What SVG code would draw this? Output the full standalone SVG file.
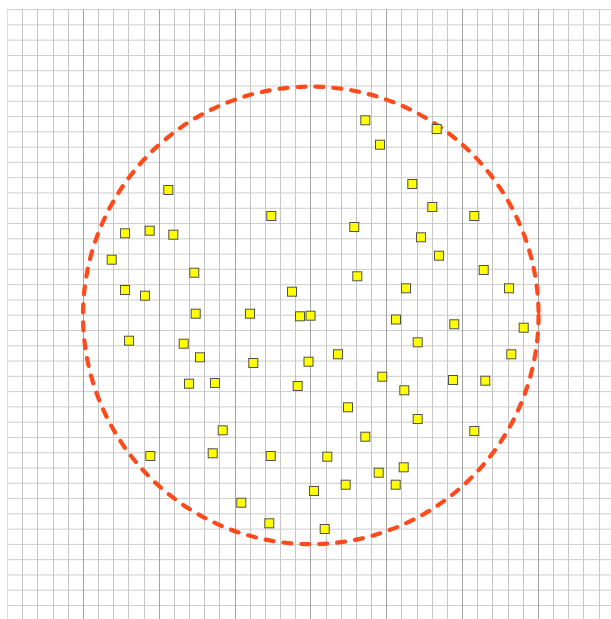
<svg xmlns="http://www.w3.org/2000/svg" width="611" height="619" viewBox="0 0 611 619">
<style>
.h{stroke:#cdcdcd;stroke-width:1}
.v{stroke:#c6c6c6;stroke-width:1}
.m{stroke:#a4a4a4;stroke-width:1}
.pt{fill:#ffff00;stroke:#505050;stroke-width:1}
.ring{fill:none;stroke:#ff4a1c;stroke-width:4.2;stroke-dasharray:8 10;stroke-linecap:round}
</style>
<rect width="611" height="619" fill="#ffffff"/>
<g id="grid">
<g id="grid-h">
<line class="h" x1="7" x2="611" y1="9.6" y2="9.6"/>
<line class="h" x1="7" x2="611" y1="24.88" y2="24.88"/>
<line class="h" x1="7" x2="611" y1="40.16" y2="40.16"/>
<line class="h" x1="7" x2="611" y1="55.44" y2="55.44"/>
<line class="h" x1="7" x2="611" y1="70.72" y2="70.72"/>
<line class="h" x1="7" x2="611" y1="86" y2="86"/>
<line class="h" x1="7" x2="611" y1="101.28" y2="101.28"/>
<line class="h" x1="7" x2="611" y1="116.56" y2="116.56"/>
<line class="h" x1="7" x2="611" y1="131.84" y2="131.84"/>
<line class="h" x1="7" x2="611" y1="147.12" y2="147.12"/>
<line class="h" x1="7" x2="611" y1="162.4" y2="162.4"/>
<line class="h" x1="7" x2="611" y1="177.68" y2="177.68"/>
<line class="h" x1="7" x2="611" y1="192.96" y2="192.96"/>
<line class="h" x1="7" x2="611" y1="208.24" y2="208.24"/>
<line class="h" x1="7" x2="611" y1="223.52" y2="223.52"/>
<line class="h" x1="7" x2="611" y1="238.8" y2="238.8"/>
<line class="h" x1="7" x2="611" y1="254.08" y2="254.08"/>
<line class="h" x1="7" x2="611" y1="269.36" y2="269.36"/>
<line class="h" x1="7" x2="611" y1="284.64" y2="284.64"/>
<line class="h" x1="7" x2="611" y1="299.92" y2="299.92"/>
<line class="h" x1="7" x2="611" y1="315.2" y2="315.2"/>
<line class="h" x1="7" x2="611" y1="330.48" y2="330.48"/>
<line class="h" x1="7" x2="611" y1="345.76" y2="345.76"/>
<line class="h" x1="7" x2="611" y1="361.04" y2="361.04"/>
<line class="h" x1="7" x2="611" y1="376.32" y2="376.32"/>
<line class="h" x1="7" x2="611" y1="391.6" y2="391.6"/>
<line class="h" x1="7" x2="611" y1="406.88" y2="406.88"/>
<line class="h" x1="7" x2="611" y1="422.16" y2="422.16"/>
<line class="h" x1="7" x2="611" y1="437.44" y2="437.44"/>
<line class="h" x1="7" x2="611" y1="452.72" y2="452.72"/>
<line class="h" x1="7" x2="611" y1="468" y2="468"/>
<line class="h" x1="7" x2="611" y1="483.28" y2="483.28"/>
<line class="h" x1="7" x2="611" y1="498.56" y2="498.56"/>
<line class="h" x1="7" x2="611" y1="513.84" y2="513.84"/>
<line class="h" x1="7" x2="611" y1="529.12" y2="529.12"/>
<line class="h" x1="7" x2="611" y1="544.4" y2="544.4"/>
<line class="h" x1="7" x2="611" y1="559.68" y2="559.68"/>
<line class="h" x1="7" x2="611" y1="574.96" y2="574.96"/>
<line class="h" x1="7" x2="611" y1="590.24" y2="590.24"/>
<line class="h" x1="7" x2="611" y1="605.52" y2="605.52"/>
</g>
<g id="grid-v">
<line stroke="#dcdcdc" x1="7.5" x2="7.5" y1="9.6" y2="619"/>
<line class="v" x1="22.5" x2="22.5" y1="9.6" y2="619"/>
<line class="v" x1="37.5" x2="37.5" y1="9.6" y2="619"/>
<line class="v" x1="53.5" x2="53.5" y1="9.6" y2="619"/>
<line class="v" x1="68.5" x2="68.5" y1="9.6" y2="619"/>
<line class="m" x1="83.5" x2="83.5" y1="9.6" y2="619"/>
<line class="v" x1="98.5" x2="98.5" y1="9.6" y2="619"/>
<line class="v" x1="113.5" x2="113.5" y1="9.6" y2="619"/>
<line class="v" x1="128.5" x2="128.5" y1="9.6" y2="619"/>
<line class="v" x1="144.5" x2="144.5" y1="9.6" y2="619"/>
<line class="m" x1="159.5" x2="159.5" y1="9.6" y2="619"/>
<line class="v" x1="174.5" x2="174.5" y1="9.6" y2="619"/>
<line class="v" x1="189.5" x2="189.5" y1="9.6" y2="619"/>
<line class="v" x1="204.5" x2="204.5" y1="9.6" y2="619"/>
<line class="v" x1="219.5" x2="219.5" y1="9.6" y2="619"/>
<line class="m" x1="235.5" x2="235.5" y1="9.6" y2="619"/>
<line class="v" x1="250.5" x2="250.5" y1="9.6" y2="619"/>
<line class="v" x1="265.5" x2="265.5" y1="9.6" y2="619"/>
<line class="v" x1="280.5" x2="280.5" y1="9.6" y2="619"/>
<line class="v" x1="295.5" x2="295.5" y1="9.6" y2="619"/>
<line class="m" x1="310.5" x2="310.5" y1="9.6" y2="619"/>
<line class="v" x1="326.5" x2="326.5" y1="9.6" y2="619"/>
<line class="v" x1="341.5" x2="341.5" y1="9.6" y2="619"/>
<line class="v" x1="356.5" x2="356.5" y1="9.6" y2="619"/>
<line class="v" x1="371.5" x2="371.5" y1="9.6" y2="619"/>
<line class="m" x1="386.5" x2="386.5" y1="9.6" y2="619"/>
<line class="v" x1="401.5" x2="401.5" y1="9.6" y2="619"/>
<line class="v" x1="417.5" x2="417.5" y1="9.6" y2="619"/>
<line class="v" x1="432.5" x2="432.5" y1="9.6" y2="619"/>
<line class="v" x1="447.5" x2="447.5" y1="9.6" y2="619"/>
<line class="m" x1="462.5" x2="462.5" y1="9.6" y2="619"/>
<line class="v" x1="477.5" x2="477.5" y1="9.6" y2="619"/>
<line class="v" x1="492.5" x2="492.5" y1="9.6" y2="619"/>
<line class="v" x1="508.5" x2="508.5" y1="9.6" y2="619"/>
<line class="v" x1="523.5" x2="523.5" y1="9.6" y2="619"/>
<line class="m" x1="538.5" x2="538.5" y1="9.6" y2="619"/>
<line class="v" x1="553.5" x2="553.5" y1="9.6" y2="619"/>
<line class="v" x1="568.5" x2="568.5" y1="9.6" y2="619"/>
<line class="v" x1="583.5" x2="583.5" y1="9.6" y2="619"/>
<line class="v" x1="599.5" x2="599.5" y1="9.6" y2="619"/>
</g>
</g>
<g id="boundary">
<ellipse class="ring" cx="310.8" cy="315.4" rx="227.8" ry="228.8"/>
</g>
<g id="points">
<rect id="p1" class="pt" x="163.8" y="185.5" width="9" height="9"/>
<rect id="p2" class="pt" x="266.8" y="211.5" width="9" height="9"/>
<rect id="p3" class="pt" x="120.5" y="228.8" width="9" height="9"/>
<rect id="p4" class="pt" x="145.2" y="226.2" width="9" height="9"/>
<rect id="p5" class="pt" x="168.8" y="230.2" width="9" height="9"/>
<rect id="p6" class="pt" x="107.2" y="255.2" width="9" height="9"/>
<rect id="p7" class="pt" x="189.8" y="268.2" width="9" height="9"/>
<rect id="p8" class="pt" x="120.5" y="285.5" width="9" height="9"/>
<rect id="p9" class="pt" x="140.5" y="291.2" width="9" height="9"/>
<rect id="p10" class="pt" x="287.5" y="287.2" width="9" height="9"/>
<rect id="p11" class="pt" x="191.2" y="309.2" width="9" height="9"/>
<rect id="p12" class="pt" x="245.5" y="309.2" width="9" height="9"/>
<rect id="p13" class="pt" x="295.5" y="311.8" width="9" height="9"/>
<rect id="p14" class="pt" x="306" y="311.2" width="9" height="9"/>
<rect id="p15" class="pt" x="360.8" y="115.8" width="9" height="9"/>
<rect id="p16" class="pt" x="432.2" y="124.5" width="9" height="9"/>
<rect id="p17" class="pt" x="375.5" y="140.2" width="9" height="9"/>
<rect id="p18" class="pt" x="407.8" y="179.5" width="9" height="9"/>
<rect id="p19" class="pt" x="427.8" y="202.5" width="9" height="9"/>
<rect id="p20" class="pt" x="469.8" y="211.5" width="9" height="9"/>
<rect id="p21" class="pt" x="349.8" y="222.5" width="9" height="9"/>
<rect id="p22" class="pt" x="416.5" y="232.8" width="9" height="9"/>
<rect id="p23" class="pt" x="434.5" y="251.2" width="9" height="9"/>
<rect id="p24" class="pt" x="479.2" y="265.5" width="9" height="9"/>
<rect id="p25" class="pt" x="352.8" y="271.8" width="9" height="9"/>
<rect id="p26" class="pt" x="401.5" y="283.8" width="9" height="9"/>
<rect id="p27" class="pt" x="504.5" y="283.8" width="9" height="9"/>
<rect id="p28" class="pt" x="391.5" y="315" width="9" height="9"/>
<rect id="p29" class="pt" x="124.5" y="336.2" width="9" height="9"/>
<rect id="p30" class="pt" x="179.2" y="339.2" width="9" height="9"/>
<rect id="p31" class="pt" x="195.5" y="352.8" width="9" height="9"/>
<rect id="p32" class="pt" x="248.8" y="358.5" width="9" height="9"/>
<rect id="p33" class="pt" x="304" y="357.2" width="9" height="9"/>
<rect id="p34" class="pt" x="184.5" y="379.2" width="9" height="9"/>
<rect id="p35" class="pt" x="210.5" y="378.5" width="9" height="9"/>
<rect id="p36" class="pt" x="293.2" y="381.5" width="9" height="9"/>
<rect id="p37" class="pt" x="218.2" y="425.8" width="9" height="9"/>
<rect id="p38" class="pt" x="145.8" y="451.5" width="9" height="9"/>
<rect id="p39" class="pt" x="208.2" y="448.8" width="9" height="9"/>
<rect id="p40" class="pt" x="266.2" y="451.5" width="9" height="9"/>
<rect id="p41" class="pt" x="236.8" y="498.2" width="9" height="9"/>
<rect id="p42" class="pt" x="264.8" y="518.8" width="9" height="9"/>
<rect id="p43" class="pt" x="449.8" y="319.8" width="9" height="9"/>
<rect id="p44" class="pt" x="519.2" y="323.2" width="9" height="9"/>
<rect id="p45" class="pt" x="413.2" y="337.8" width="9" height="9"/>
<rect id="p46" class="pt" x="333.5" y="349.8" width="9" height="9"/>
<rect id="p47" class="pt" x="506.8" y="349.8" width="9" height="9"/>
<rect id="p48" class="pt" x="377.8" y="372.2" width="9" height="9"/>
<rect id="p49" class="pt" x="448.5" y="375.5" width="9" height="9"/>
<rect id="p50" class="pt" x="480.8" y="376.2" width="9" height="9"/>
<rect id="p51" class="pt" x="399.8" y="385.8" width="9" height="9"/>
<rect id="p52" class="pt" x="343.5" y="402.8" width="9" height="9"/>
<rect id="p53" class="pt" x="413.2" y="414.5" width="9" height="9"/>
<rect id="p54" class="pt" x="469.8" y="426.5" width="9" height="9"/>
<rect id="p55" class="pt" x="360.8" y="432.2" width="9" height="9"/>
<rect id="p56" class="pt" x="322.8" y="452.2" width="9" height="9"/>
<rect id="p57" class="pt" x="374.2" y="468.2" width="9" height="9"/>
<rect id="p58" class="pt" x="399.2" y="462.8" width="9" height="9"/>
<rect id="p59" class="pt" x="341.2" y="480.2" width="9" height="9"/>
<rect id="p60" class="pt" x="391.2" y="480.2" width="9" height="9"/>
<rect id="p61" class="pt" x="309.5" y="486.5" width="9" height="9"/>
<rect id="p62" class="pt" x="320.2" y="524.5" width="9" height="9"/>
</g>
</svg>
